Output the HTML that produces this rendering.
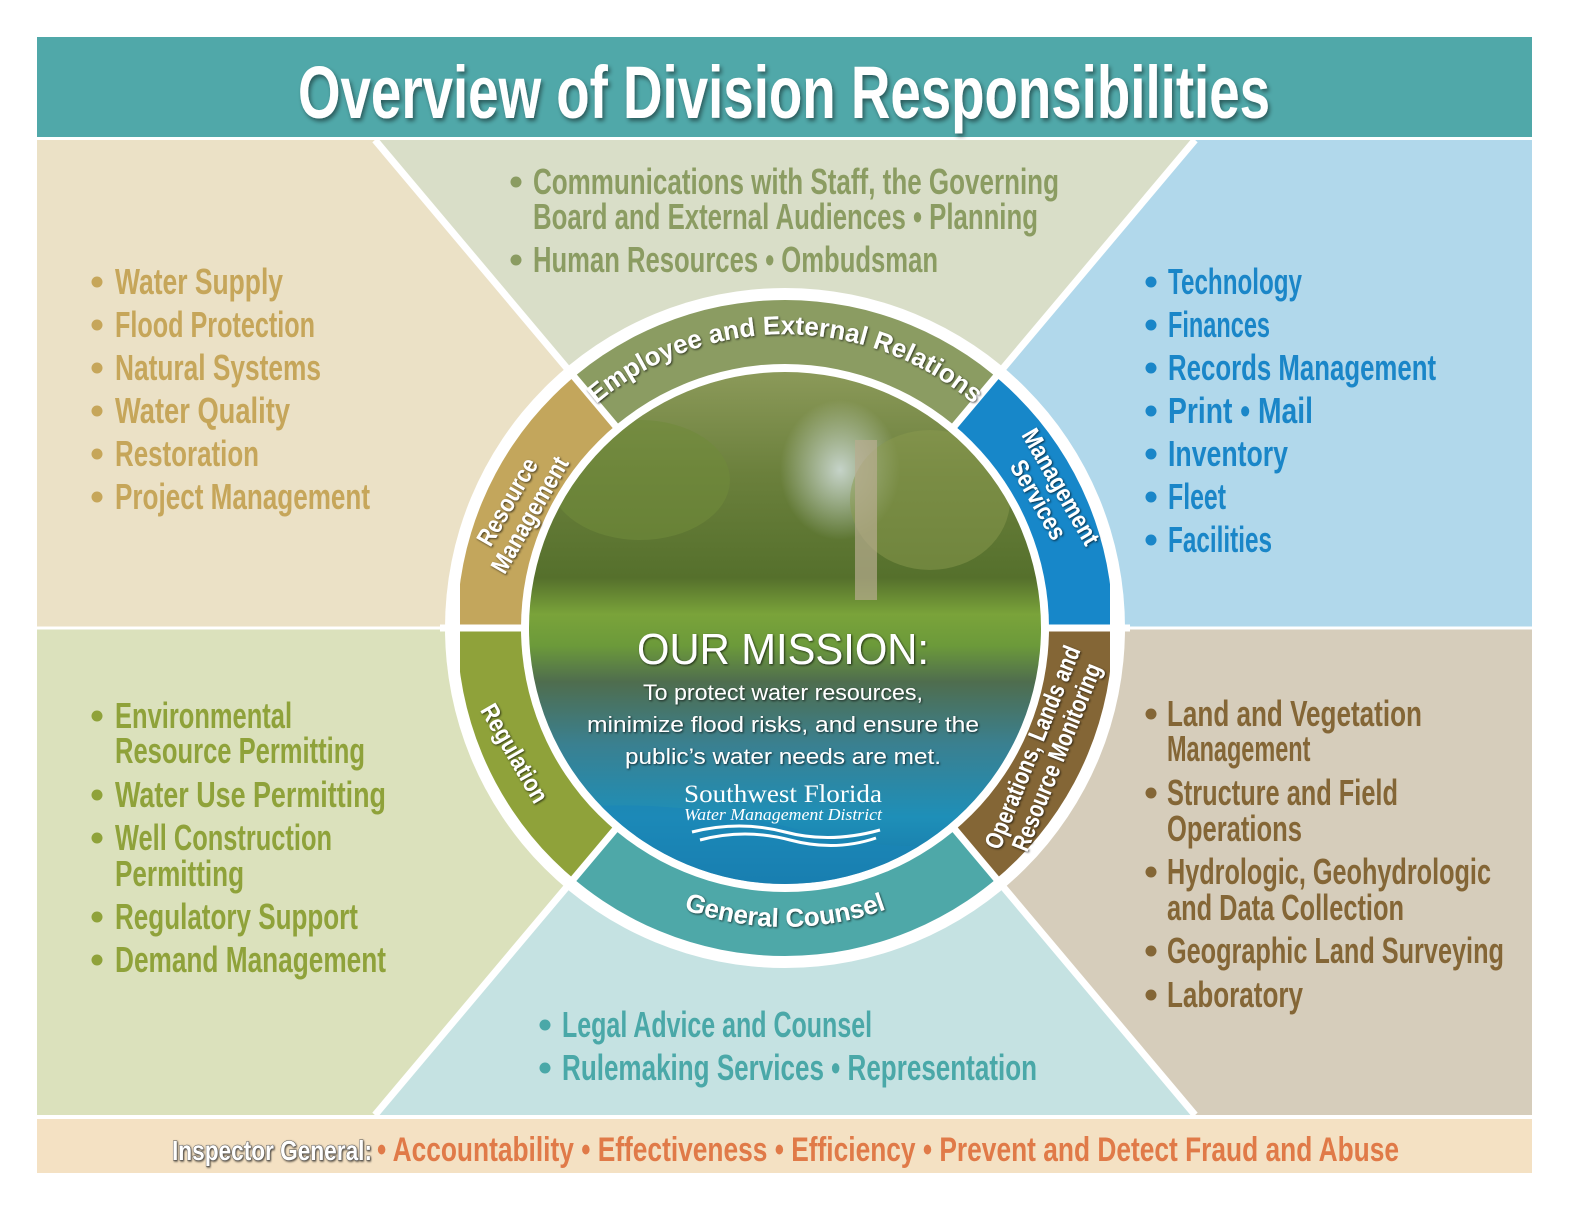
<!DOCTYPE html>
<html><head><meta charset="utf-8"><style>html,body{margin:0;padding:0;background:#fff}svg{display:block}</style></head><body>
<svg width="1584" height="1224" viewBox="0 0 1584 1224" xmlns="http://www.w3.org/2000/svg" font-family="'Liberation Sans Narrow','Liberation Sans',sans-serif">
<defs>
<filter id="sh" x="-5%" y="-20%" width="110%" height="140%"><feDropShadow dx="2" dy="3" stdDeviation="2" flood-color="#000" flood-opacity="0.45"/></filter>
<filter id="sh2"><feDropShadow dx="1" dy="1" stdDeviation="1" flood-color="#000" flood-opacity="0.7"/></filter>
<clipPath id="ringclip"><circle cx="785" cy="628" r="328"/></clipPath>
<clipPath id="rc2"><rect x="460" y="200" width="650" height="860"/></clipPath>
<clipPath id="photoclip"><circle cx="785" cy="628" r="256"/></clipPath>
<linearGradient id="ph" x1="0" y1="0" x2="0" y2="1">
<stop offset="0" stop-color="#8c9a5a"/><stop offset="0.2" stop-color="#6b803c"/><stop offset="0.4" stop-color="#55702c"/><stop offset="0.47" stop-color="#7aa33a"/><stop offset="0.53" stop-color="#6c9a3a"/><stop offset="0.6" stop-color="#4f6d4e"/><stop offset="0.72" stop-color="#3a8090"/><stop offset="0.86" stop-color="#1e8fb8"/><stop offset="1" stop-color="#1572a5"/>
</linearGradient>
<radialGradient id="sky" cx="0.5" cy="0.5" r="0.5"><stop offset="0" stop-color="#cfdcd8" stop-opacity="0.9"/><stop offset="1" stop-color="#cfdcd8" stop-opacity="0"/></radialGradient>
<path id="arcTop" d="M546,460 A290,290 0 0 1 1024,460"/>
<path id="arcBot" d="M540,800 A300,300 0 0 0 1030,800"/>
</defs>

<rect x="37" y="37" width="1495" height="100" fill="#50a8a9"/>
<text x="298" y="118" font-size="74" font-weight="bold" fill="#fff" textLength="972" lengthAdjust="spacingAndGlyphs" filter="url(#sh)">Overview of Division Responsibilities</text>

<polygon points="37,140 375,140 785,628 37,628" fill="#ebe1c6"/>
<polygon points="375,140 1195,140 785,628" fill="#d9dec8"/>
<polygon points="1195,140 1532,140 1532,628 785,628" fill="#b1d8eb"/>
<polygon points="37,628 785,628 375,1115 37,1115" fill="#dbe1bc"/>
<polygon points="375,1115 785,628 1195,1115" fill="#c5e2e2"/>
<polygon points="785,628 1532,628 1532,1115 1195,1115" fill="#d6cdbb"/>
<g stroke="#fff" stroke-width="3">
<line x1="375" y1="140" x2="1195" y2="1115"/><line x1="1195" y1="140" x2="375" y2="1115"/><line x1="37" y1="628" x2="1532" y2="628"/>
</g>
<rect x="37" y="1119" width="1495" height="54" fill="#f4e1c3"/>

<circle cx="785" cy="628" r="340" fill="#fff"/>
<g clip-path="url(#ringclip)">
<g clip-path="url(#rc2)">
<path d="M785,628 L1171,168 L1171,0 L399,0 L399,168 Z" fill="#8b9c62"/>
<path d="M785,628 L399,168 L0,168 L0,628 Z" fill="#c3a65c"/>
<path d="M785,628 L0,628 L0,1088 L399,1088 Z" fill="#8fa23a"/>
<path d="M785,628 L399,1088 L399,1224 L1171,1224 L1171,1088 Z" fill="#4ea8a8"/>
<path d="M785,628 L1171,1088 L1584,1088 L1584,628 Z" fill="#846636"/>
<path d="M785,628 L1584,628 L1584,168 L1171,168 Z" fill="#1787c9"/>
</g>
</g>
<g stroke="#fff" stroke-width="7">
<line x1="375" y1="140" x2="1195" y2="1115"/><line x1="1195" y1="140" x2="375" y2="1115"/><line x1="440" y1="628" x2="1130" y2="628"/>
</g>
<circle cx="785" cy="628" r="264" fill="#fff"/>

<g clip-path="url(#photoclip)">
<rect x="520" y="370" width="530" height="520" fill="url(#ph)"/>
<ellipse cx="840" cy="470" rx="60" ry="70" fill="url(#sky)"/>
<ellipse cx="640" cy="480" rx="90" ry="60" fill="#6f8a3a" opacity="0.6"/>
<ellipse cx="930" cy="500" rx="80" ry="70" fill="#8a9a4e" opacity="0.5"/>
<rect x="855" y="440" width="22" height="160" fill="#b8ad90" opacity="0.7"/>
<path d="M520,815 Q650,790 800,830 T1050,810 L1050,900 L520,900 Z" fill="#1a86b8" opacity="0.6"/>
</g>
<text x="783" y="664" font-family="'Liberation Sans','DejaVu Sans',sans-serif" font-size="44" fill="#fff" text-anchor="middle" textLength="292" lengthAdjust="spacingAndGlyphs" filter="url(#sh2)">OUR MISSION:</text>
<g font-family="'Liberation Sans',sans-serif" font-size="22" fill="#fff" text-anchor="middle" filter="url(#sh2)">
<text x="783" y="700" textLength="280" lengthAdjust="spacingAndGlyphs">To protect water resources,</text>
<text x="783" y="732" textLength="392" lengthAdjust="spacingAndGlyphs">minimize flood risks, and ensure the</text>
<text x="783" y="764" textLength="316" lengthAdjust="spacingAndGlyphs">public’s water needs are met.</text>
</g>
<text x="783" y="802" font-family="'Liberation Serif',serif" font-size="25" fill="#fff" text-anchor="middle" textLength="198" lengthAdjust="spacingAndGlyphs">Southwest Florida</text>
<text x="783" y="820" font-family="'Liberation Serif',serif" font-style="italic" font-size="17" fill="#fff" text-anchor="middle" textLength="198" lengthAdjust="spacingAndGlyphs">Water Management District</text>
<path d="M692,832 Q740,820 785,832 T880,830 M700,840 Q745,828 790,840 T876,838" stroke="#fff" stroke-width="3" fill="none"/>

<g font-size="26" font-weight="bold" fill="#fff" filter="url(#sh2)">
<text><textPath href="#arcTop" startOffset="50%" text-anchor="middle">Employee and External Relations</textPath></text>
<text><textPath href="#arcBot" startOffset="50%" text-anchor="middle">General Counsel</textPath></text>
</g>
<g font-size="25" font-weight="bold" fill="#fff" text-anchor="middle" filter="url(#sh2)">
<g transform="translate(518,508) rotate(-60) scale(0.85,1)"><text x="0" y="-4">Resource</text><text x="0" y="22">Management</text></g>
<g transform="translate(1050,493) rotate(60) scale(0.85,1)"><text x="0" y="-4">Management</text><text x="0" y="22">Services</text></g>
<g transform="translate(515,753) rotate(60) scale(0.85,1)"><text x="0" y="9">Regulation</text></g>
<g transform="translate(1044,752) rotate(-68) scale(0.8,1)"><text x="0" y="-4">Operations, Lands and</text><text x="0" y="22">Resource Monitoring</text></g>
</g>

<g fill="#c6a65a">
<circle cx="97" cy="282" r="5.5"/><circle cx="97" cy="325" r="5.5"/><circle cx="97" cy="368" r="5.5"/><circle cx="97" cy="411" r="5.5"/><circle cx="97" cy="454" r="5.5"/><circle cx="97" cy="497" r="5.5"/>
</g>
<g fill="#8b9c62"><circle cx="516" cy="182" r="5.5"/><circle cx="516" cy="260" r="5.5"/></g>
<g fill="#1a86c8">
<circle cx="1151" cy="282" r="5.5"/><circle cx="1151" cy="325" r="5.5"/><circle cx="1151" cy="368" r="5.5"/><circle cx="1151" cy="411" r="5.5"/><circle cx="1151" cy="454" r="5.5"/><circle cx="1151" cy="497" r="5.5"/><circle cx="1151" cy="540" r="5.5"/>
</g>
<g fill="#8fa23a">
<circle cx="97" cy="716" r="5.5"/><circle cx="97" cy="795" r="5.5"/><circle cx="97" cy="838" r="5.5"/><circle cx="97" cy="917" r="5.5"/><circle cx="97" cy="960" r="5.5"/>
</g>
<g fill="#846636">
<circle cx="1151" cy="714" r="5.5"/><circle cx="1151" cy="793" r="5.5"/><circle cx="1151" cy="872" r="5.5"/><circle cx="1151" cy="951" r="5.5"/><circle cx="1151" cy="995" r="5.5"/>
</g>
<g fill="#4aa8a8"><circle cx="545" cy="1025" r="5.5"/><circle cx="545" cy="1068" r="5.5"/></g>

<g transform="scale(0.7,1)" font-size="36" font-weight="bold">
<g fill="#c6a65a">
<text x="164.3" y="294" textLength="240" lengthAdjust="spacingAndGlyphs">Water Supply</text>
<text x="164.3" y="337" textLength="285.7" lengthAdjust="spacingAndGlyphs">Flood Protection</text>
<text x="164.3" y="380" textLength="294.3" lengthAdjust="spacingAndGlyphs">Natural Systems</text>
<text x="164.3" y="423" textLength="250" lengthAdjust="spacingAndGlyphs">Water Quality</text>
<text x="164.3" y="466" textLength="205.7" lengthAdjust="spacingAndGlyphs">Restoration</text>
<text x="164.3" y="509" textLength="364.3" lengthAdjust="spacingAndGlyphs">Project Management</text>
</g>
<g fill="#8b9c62">
<text x="761.4" y="194" textLength="751.4" lengthAdjust="spacingAndGlyphs">Communications with Staff, the Governing</text>
<text x="761.4" y="229" textLength="721.4" lengthAdjust="spacingAndGlyphs">Board and External Audiences • Planning</text>
<text x="761.4" y="272" textLength="578.6" lengthAdjust="spacingAndGlyphs">Human Resources • Ombudsman</text>
</g>
<g fill="#1a86c8">
<text x="1668.6" y="294" textLength="191.4" lengthAdjust="spacingAndGlyphs">Technology</text>
<text x="1668.6" y="337" textLength="145.7" lengthAdjust="spacingAndGlyphs">Finances</text>
<text x="1668.6" y="380" textLength="382.9" lengthAdjust="spacingAndGlyphs">Records Management</text>
<text x="1668.6" y="423" textLength="207.1" lengthAdjust="spacingAndGlyphs">Print • Mail</text>
<text x="1668.6" y="466" textLength="171.4" lengthAdjust="spacingAndGlyphs">Inventory</text>
<text x="1668.6" y="509" textLength="82.9" lengthAdjust="spacingAndGlyphs">Fleet</text>
<text x="1668.6" y="552" textLength="148.6" lengthAdjust="spacingAndGlyphs">Facilities</text>
</g>
<g fill="#8fa23a">
<text x="164.3" y="728" textLength="252.9" lengthAdjust="spacingAndGlyphs">Environmental</text>
<text x="164.3" y="763" textLength="357.1" lengthAdjust="spacingAndGlyphs">Resource Permitting</text>
<text x="164.3" y="807" textLength="387.1" lengthAdjust="spacingAndGlyphs">Water Use Permitting</text>
<text x="164.3" y="850" textLength="310" lengthAdjust="spacingAndGlyphs">Well Construction</text>
<text x="164.3" y="886" textLength="184.3" lengthAdjust="spacingAndGlyphs">Permitting</text>
<text x="164.3" y="929" textLength="347.1" lengthAdjust="spacingAndGlyphs">Regulatory Support</text>
<text x="164.3" y="972" textLength="387.1" lengthAdjust="spacingAndGlyphs">Demand Management</text>
</g>
<g fill="#846636">
<text x="1667.1" y="726" textLength="364.3" lengthAdjust="spacingAndGlyphs">Land and Vegetation</text>
<text x="1667.1" y="761" textLength="205" lengthAdjust="spacingAndGlyphs">Management</text>
<text x="1667.1" y="805" textLength="330" lengthAdjust="spacingAndGlyphs">Structure and Field</text>
<text x="1667.1" y="841" textLength="192.9" lengthAdjust="spacingAndGlyphs">Operations</text>
<text x="1667.1" y="884" textLength="462.9" lengthAdjust="spacingAndGlyphs">Hydrologic, Geohydrologic</text>
<text x="1667.1" y="920" textLength="338.6" lengthAdjust="spacingAndGlyphs">and Data Collection</text>
<text x="1667.1" y="963" textLength="481.4" lengthAdjust="spacingAndGlyphs">Geographic Land Surveying</text>
<text x="1667.1" y="1007" textLength="194.3" lengthAdjust="spacingAndGlyphs">Laboratory</text>
</g>
<g fill="#4aa8a8">
<text x="802.9" y="1037" textLength="442.9" lengthAdjust="spacingAndGlyphs">Legal Advice and Counsel</text>
<text x="802.9" y="1080" textLength="678.6" lengthAdjust="spacingAndGlyphs">Rulemaking Services • Representation</text>
</g>
</g>

<g transform="scale(0.8,1)" font-weight="bold">
<text x="215" y="1160" font-size="28" fill="#fff" stroke="#555" stroke-width="1" paint-order="stroke" textLength="250" lengthAdjust="spacingAndGlyphs" filter="url(#sh2)">Inspector General:</text>
<text x="471.3" y="1161" font-size="34" fill="#e07a48" textLength="1277.5" lengthAdjust="spacingAndGlyphs">• Accountability • Effectiveness • Efficiency • Prevent and Detect Fraud and Abuse</text>
</g>
</svg>
</body></html>
